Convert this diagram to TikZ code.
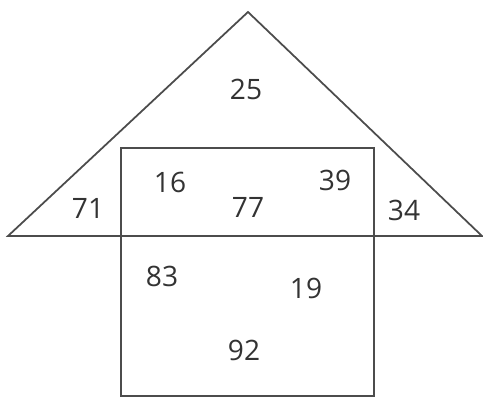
\documentclass[tikz,border=0pt]{standalone}
\usepackage{fontspec}
\setmainfont{Open Sans}
\usetikzlibrary{positioning}

\begin{document}
\begin{tikzpicture}[
    x=0.02cm, y=-0.02cm,
    edge/.style={draw=black!70, line width=1pt},
    num/.style={font=\fontsize{16}{18}\selectfont, text=black!80, inner sep=0pt}
]
\useasboundingbox (0,0) rectangle (483,398);

% roof and walls
\coordinate (apex) at (248,12);
\coordinate (left) at (8,236);
\coordinate (right) at (482,236);
\draw[edge] (left) -- (apex) -- (right) -- cycle;
\draw[edge] (121,396) rectangle (374,148);

% numbers
\node[num] (n25) at (246,89) {25};
\node[num] (n16) at (170,182) {16};
\node[num] (n39) at (335,180) {39};
\node[num] (n77) at (248,207) {77};
\node[num] (n71) at (88,208) {71};
\node[num] (n34) at (404,210) {34};
\node[num] (n83) at (162,276) {83};
\node[num] (n19) at (306,288) {19};
\node[num] (n92) at (244,350) {92};

\end{tikzpicture}
\end{document}
